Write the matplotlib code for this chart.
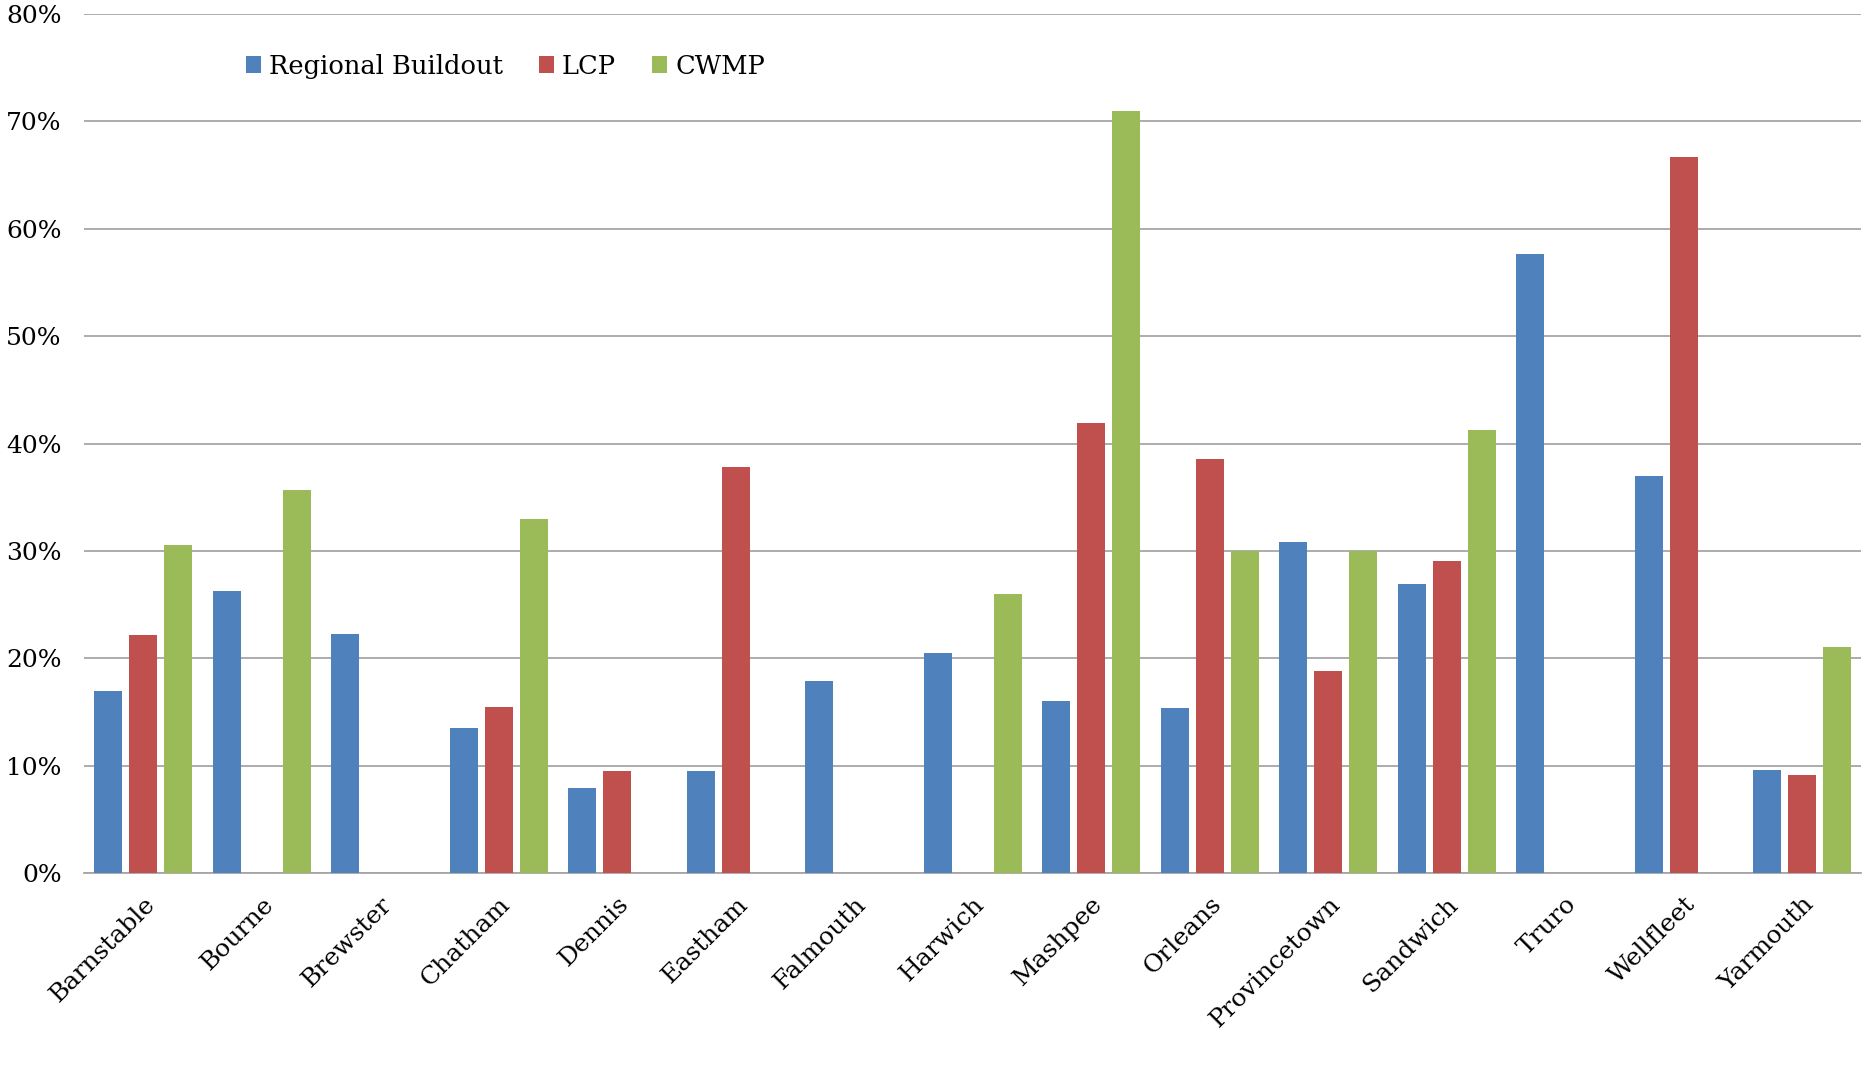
import matplotlib
matplotlib.use("Agg")
import matplotlib.pyplot as plt
import numpy as np
from matplotlib.ticker import FuncFormatter

towns = ["Barnstable", "Bourne", "Brewster", "Chatham", "Dennis", "Eastham",
         "Falmouth", "Harwich", "Mashpee", "Orleans", "Provincetown",
         "Sandwich", "Truro", "Wellfleet", "Yarmouth"]
regional_buildout = [17.0, 26.3, 22.3, 13.5, 7.9, 9.5, 17.9, 20.5, 16.0, 15.4,
                     30.8, 26.9, 57.7, 37.0, 9.6]
lcp = [22.2, 0, 0, 15.5, 9.5, 37.8, 0, 0, 41.9, 38.6, 18.8, 29.1, 0, 66.7, 9.1]
cwmp = [30.6, 35.7, 0, 33.0, 0, 0, 0, 26.0, 71.0, 30.0, 30.0, 41.3, 0, 0, 21.1]
series_names = ["Regional Buildout", "LCP", "CWMP"]
colors = ["#4F81BD", "#C0504D", "#9BBB59"]
yticks = [0, 10, 20, 30, 40, 50, 60, 70, 80]

plt.rcParams['font.family'] = ['DejaVu Serif']

fig = plt.figure(figsize=(18.75, 10.86), dpi=100)
ax = fig.add_axes([0.0448, 0.196, 0.948, 0.791])

x = np.arange(len(towns))
w = 0.235
off = 0.295
for i, (vals, name, c) in enumerate(zip([regional_buildout, lcp, cwmp], series_names, colors)):
    ax.bar(x + (i - 1) * off, vals, width=w, color=c, label=name, zorder=3)

ax.set_xlim(-0.5, len(towns) - 0.5)
ax.set_ylim(0, 80)
ax.set_yticks(yticks)
ax.yaxis.set_major_formatter(FuncFormatter(lambda v, p: f"{int(v)}%"))
ax.grid(axis='y', color='#a6a6a6', linewidth=1.3, zorder=0)
for s in ['top', 'right', 'left']:
    ax.spines[s].set_visible(False)
ax.spines['bottom'].set_color('#a6a6a6')
ax.spines['bottom'].set_linewidth(1.3)
ax.tick_params(axis='x', length=0, labelsize=18, pad=14)
ax.tick_params(axis='y', length=0, labelsize=18, pad=16)
ax.set_xticks(x)
ax.set_xticklabels(towns, rotation=45, ha='right', va='top', rotation_mode='anchor')

leg = ax.legend(loc='upper left', bbox_to_anchor=(0.078, 0.981), ncol=3, frameon=False,
                fontsize=18.5, handlelength=0.6, handleheight=0.6, handletextpad=0.3,
                columnspacing=1.4)

fig.savefig("out.png", dpi=100, facecolor='white')
